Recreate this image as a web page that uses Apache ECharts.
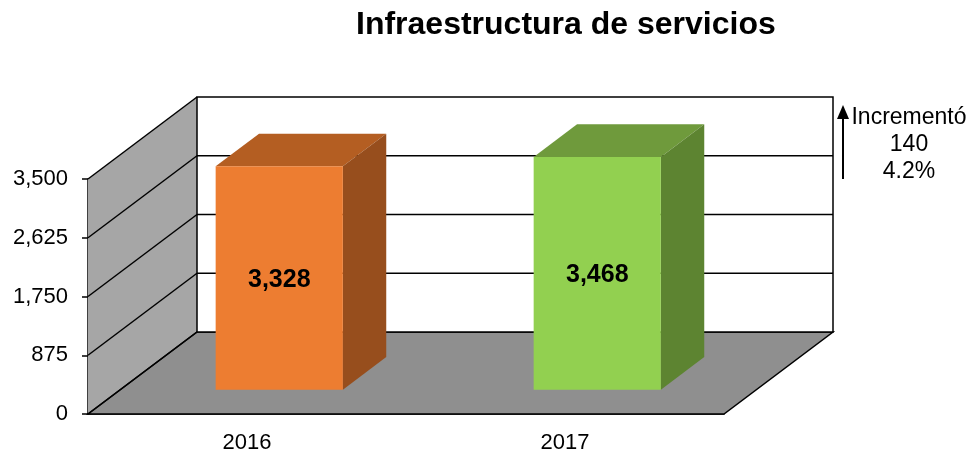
<!DOCTYPE html>
<html>
<head>
<meta charset="utf-8">
<script src="https://cdn.jsdelivr.net/npm/echarts@6/dist/echarts.min.js"></script>
<style>
html, body { margin: 0; padding: 0; background: #fff; }
#main { width: 972px; height: 455px; }
</style>
</head>
<body>
<div id="main"></div>
<script>
// datos
var years = ['2016', '2017'];
var values = [3328, 3468];
var yTicks = [0, 875, 1750, 2625, 3500];

var faceColors = ['#ED7D31', '#92D050'];
var topColors = ['#B45E22', '#6F9A3C'];
var sideColors = ['#974E1D', '#5D8431'];

// profundidad del "cubo" 3D (px)
var DX = 109, DY = -82;
var BAR_F0 = 0.296, BAR_F1 = 0.694;
var FONT = '"Liberation Sans", Arial, sans-serif';

var chart = echarts.init(document.getElementById('main'));

function fmt(v) {
    return String(v).replace(/\B(?=(\d{3})+(?!\d))/g, ',');
}

// paredes, piso y lineas de la cuadricula
function renderWalls(params, api) {
    var cs = params.coordSys;
    var x0 = cs.x, x1 = cs.x + cs.width, yb = cs.y + cs.height;
    var maxV = yTicks[yTicks.length - 1];
    var yTop = api.coord([0, maxV])[1];
    var line = { stroke: '#000', lineWidth: 1.5 };
    var kids = [];
    kids.push({
        type: 'polygon',
        shape: { points: [[x0, yb], [x0, yTop], [x0 + DX, yTop + DY], [x0 + DX, yb + DY]] },
        style: { fill: '#A6A6A6' }
    });
    kids.push({
        type: 'polygon',
        shape: { points: [[x0, yb], [x1, yb], [x1 + DX, yb + DY], [x0 + DX, yb + DY]] },
        style: { fill: '#8F8F8F', stroke: '#000', lineWidth: 1.5 }
    });
    kids.push({
        type: 'rect',
        shape: { x: x0 + DX, y: yTop + DY, width: x1 - x0, height: yb - yTop },
        style: { fill: '#fff', stroke: '#000', lineWidth: 1.5 }
    });
    yTicks.forEach(function (t) {
        var y = api.coord([0, t])[1];
        kids.push({
            type: 'line',
            shape: { x1: x0, y1: y, x2: x0 + DX, y2: y + DY },
            style: line
        });
        if (t > 0 && t < maxV) {
            kids.push({
                type: 'line',
                shape: { x1: x0 + DX, y1: y + DY, x2: x1 + DX, y2: y + DY },
                style: line
            });
        }
    });
    return { type: 'group', children: kids };
}

// barras 3D
function renderBar(params, api) {
    var i = api.value(0), v = api.value(1);
    var base = api.coord([i, 0]), top = api.coord([i, v]);
    var w = api.size([1, 0])[0] * 0.4;
    var ox = DX * BAR_F0, oy = DY * BAR_F0;
    var dx = DX * (BAR_F1 - BAR_F0), dy = DY * (BAR_F1 - BAR_F0);
    var l = base[0] + ox - w / 2, r = l + w, b = base[1] + oy, t = top[1] + oy;
    return {
        type: 'group',
        children: [
            { type: 'polygon', shape: { points: [[l, t], [r, t], [r + dx, t + dy], [l + dx, t + dy]] }, style: { fill: topColors[i] } },
            { type: 'polygon', shape: { points: [[r, t], [r + dx, t + dy], [r + dx, b + dy], [r, b]] }, style: { fill: sideColors[i] } },
            { type: 'rect', shape: { x: l, y: t, width: w, height: b - t }, style: { fill: faceColors[i] } },
            {
                type: 'text',
                style: {
                    text: fmt(v), x: (l + r) / 2, y: (t + b) / 2 + 2,
                    align: 'center', verticalAlign: 'middle',
                    font: 'bold 25px ' + FONT, fill: '#000'
                }
            }
        ]
    };
}

var inc = values[1] - values[0];
var pct = (inc / values[0] * 100).toFixed(1) + '%';

var option = {
    animation: false,
    backgroundColor: '#fff',
    title: {
        text: 'Infraestructura de servicios',
        left: 351,
        top: 4,
        textStyle: { fontFamily: FONT, fontWeight: 'bold', fontSize: 32, color: '#000' }
    },
    grid: { left: 88, top: 179, width: 636, height: 235 },
    xAxis: {
        type: 'category',
        data: years,
        axisLine: { lineStyle: { color: '#000', width: 1.5 } },
        axisTick: { length: 6, lineStyle: { color: '#000', width: 1.5 } },
        axisLabel: { fontFamily: FONT, fontSize: 22, color: '#000', margin: 18 }
    },
    yAxis: {
        type: 'value',
        min: 0,
        max: 3500,
        interval: 875,
        axisLine: { show: true, lineStyle: { color: '#000', width: 1.5 } },
        axisTick: { show: true, length: 6, lineStyle: { color: '#000', width: 1.5 } },
        splitLine: { show: false },
        axisLabel: { fontFamily: FONT, fontSize: 22, color: '#000', margin: 20, formatter: fmt }
    },
    graphic: [
        { type: 'line', shape: { x1: 843, y1: 117, x2: 843, y2: 179 }, style: { stroke: '#000', lineWidth: 2 } },
        { type: 'polygon', shape: { points: [[837, 119], [849, 119], [843, 105]] }, style: { fill: '#000' } },
        {
            type: 'text', x: 909, y: 104,
            style: {
                text: 'Incrementó\n' + inc + '\n' + pct,
                align: 'center', verticalAlign: 'top', lineHeight: 27,
                font: '23px ' + FONT, fill: '#000'
            }
        }
    ],
    series: [
        {
            type: 'custom',
            clip: false,
            z: 1,
            silent: true,
            renderItem: renderWalls,
            data: [[0, 0]]
        },
        {
            type: 'custom',
            clip: false,
            z: 3,
            renderItem: renderBar,
            data: values.map(function (v, i) { return [i, v]; })
        }
    ]
};
chart.setOption(option);
</script>
</body>
</html>
